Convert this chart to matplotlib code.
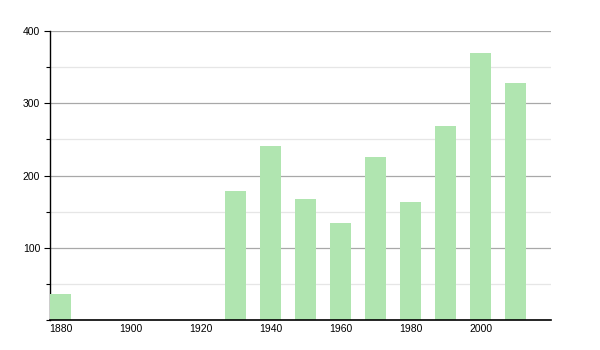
import matplotlib
matplotlib.use("Agg")
import matplotlib.pyplot as plt
from matplotlib.ticker import MultipleLocator

years = [1880, 1930, 1940, 1950, 1960, 1970, 1980, 1990, 2000, 2010]
values = [36, 179, 241, 168, 134, 226, 163, 268, 369, 328]
xticks = [1880, 1900, 1920, 1940, 1960, 1980, 2000]
yticks = [100, 200, 300, 400]

plt.rcParams['font.family'] = ['Liberation Sans', 'DejaVu Sans']

fig = plt.figure(figsize=(6, 3.5), dpi=100)
ax = fig.add_axes([50/600, 30/350, 501/600, 289/350])

ax.bar(years, values, width=6, color='#b0e5b0', zorder=3)

ax.set_xlim(1876.9, 2020)
ax.set_ylim(0, 400)
ax.set_xticks(xticks)
ax.set_xticklabels([str(t) for t in xticks])
ax.set_yticks(yticks)
ax.set_yticklabels([str(t) for t in yticks])
ax.yaxis.set_minor_locator(MultipleLocator(50))

ax.grid(axis='y', which='major', color='#a8a8a8', linewidth=0.9, zorder=1)
ax.grid(axis='y', which='minor', color='#e6e6e6', linewidth=0.9, zorder=1)

for s in ['top', 'right']:
    ax.spines[s].set_visible(False)
ax.spines['left'].set_color('black')
ax.spines['bottom'].set_color('black')
ax.spines['left'].set_linewidth(1)
ax.spines['bottom'].set_linewidth(1.2)
ax.spines['bottom'].set_zorder(4)

ax.tick_params(axis='y', which='major', length=4, width=0.8, labelsize=7.5, pad=3, colors='black')
ax.tick_params(axis='y', which='minor', length=3, width=0.8)
ax.tick_params(axis='x', length=0, labelsize=7.5, pad=3, colors='black')

fig.savefig('out.png', dpi=100)
